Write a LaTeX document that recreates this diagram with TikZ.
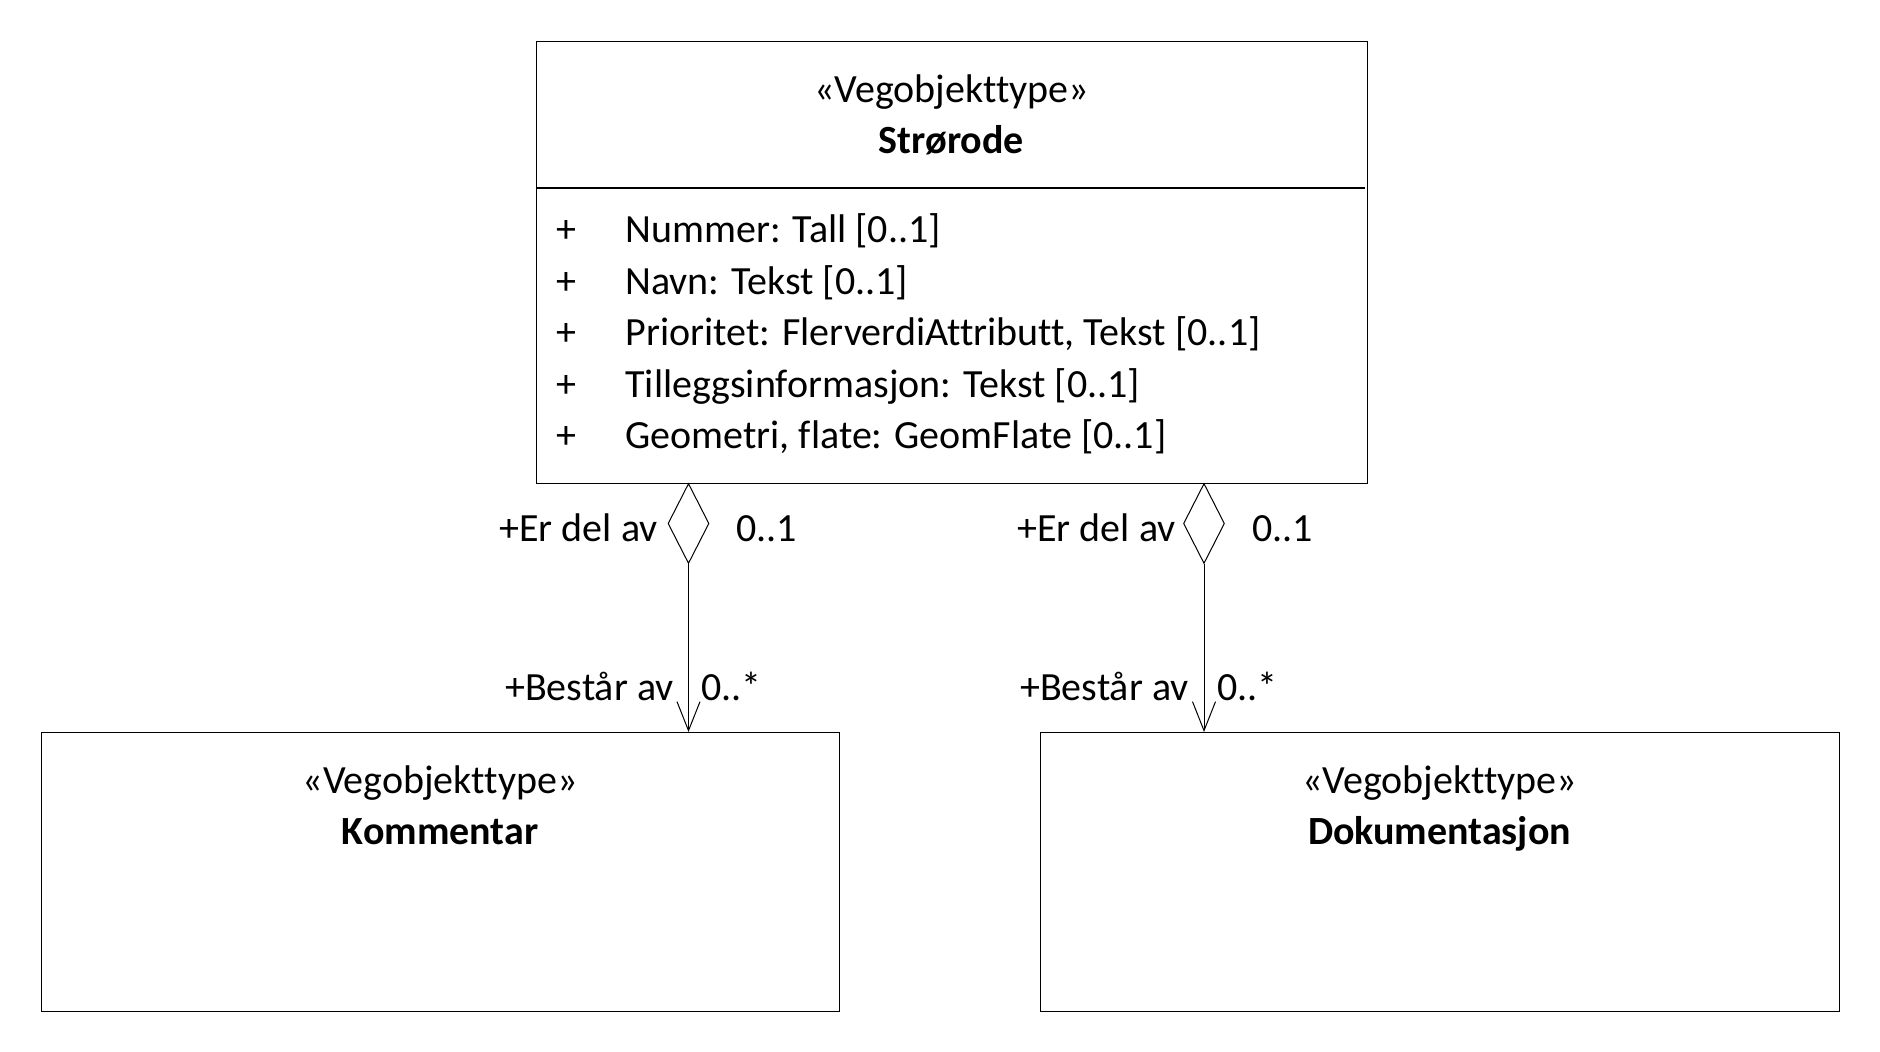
\documentclass[tikz,border=0pt]{standalone}
\usepackage{fontspec}
\setmainfont{Carlito}[Ligatures=CommonOff]
\usetikzlibrary{shapes.geometric,arrows.meta}
\begin{document}
\begin{tikzpicture}[x=0.5pt,y=-0.5pt,
  font=\fontsize{20pt}{24pt}\selectfont,
  box/.style={draw, line width=0.7pt, inner sep=0, anchor=north west},
  txt/.style={inner sep=0, anchor=base},
  lw/.style={inner sep=0, anchor=base west},
  le/.style={inner sep=0, anchor=base east},
  agg/.style={diamond, draw, line width=0.5pt, inner sep=0, minimum width=20.5pt, minimum height=40pt, anchor=north},
  assoc/.style={line width=0.5pt, -{Straight Barb[length=14.5pt,width=11.5pt,line width=0.5pt]}}
]
\useasboundingbox (0,0) rectangle (1880,1052);

% main class
\node[box, minimum width=415.5pt, minimum height=221pt] (main) at (536,41) {};
\node[txt] (mainst) at (951.5,102.5) {«Vegobjekttype»};
\node[txt] (mainnm) at (951.5,154) {\bfseries Strørode};
\coordinate (sepl) at (536,188);
\coordinate (sepr) at (1365,188);
\draw[line width=0.6pt] (sepl) -- (sepr);
\node[lw] (p1) at (556,243) {+};
\node[lw] (a1) at (625,243) {Nummer: Tall [0..1]};
\node[lw] (p2) at (556,294.5) {+};
\node[lw] (a2) at (625,294.5) {Navn: Tekst [0..1]};
\node[lw] (p3) at (556,346) {+};
\node[lw] (a3) at (625,346) {Prioritet: FlerverdiAttributt, Tekst [0..1]};
\node[lw] (p4) at (556,397.5) {+};
\node[lw] (a4) at (625,397.5) {Tilleggsinformasjon: Tekst [0..1]};
\node[lw] (p5) at (556,449) {+};
\node[lw] (a5) at (625,449) {Geometri, flate: GeomFlate [0..1]};

% Kommentar
\node[box, minimum width=399pt, minimum height=139.5pt] (kom) at (41,732) {};
\node[txt] (komst) at (440,793.5) {«Vegobjekttype»};
\node[txt] (komnm) at (440,845) {\bfseries Kommentar};

% Dokumentasjon
\node[box, minimum width=399.5pt, minimum height=139.5pt] (dok) at (1040,732) {};
\node[txt] (dokst) at (1439.5,793.5) {«Vegobjekttype»};
\node[txt] (doknm) at (1439.5,845) {\bfseries Dokumentasjon};

% aggregations
\node[agg] (d1) at (688.5,483) {};
\draw[assoc] (d1.south) -- (d1.south |- kom.north);
\node[le] (l1a) at (658,542) {+Er del av};
\node[lw] (l1b) at (736,542) {0..1};
\node[le] (l1c) at (674,701) {+Består av};
\node[lw] (l1d) at (701,701) {0..*};

\node[agg] (d2) at (1204,483) {};
\draw[assoc] (d2.south) -- (d2.south |- dok.north);
\node[le] (l2a) at (1176,542) {+Er del av};
\node[lw] (l2b) at (1252,542) {0..1};
\node[le] (l2c) at (1189,701) {+Består av};
\node[lw] (l2d) at (1217,701) {0..*};
\end{tikzpicture}
\end{document}
